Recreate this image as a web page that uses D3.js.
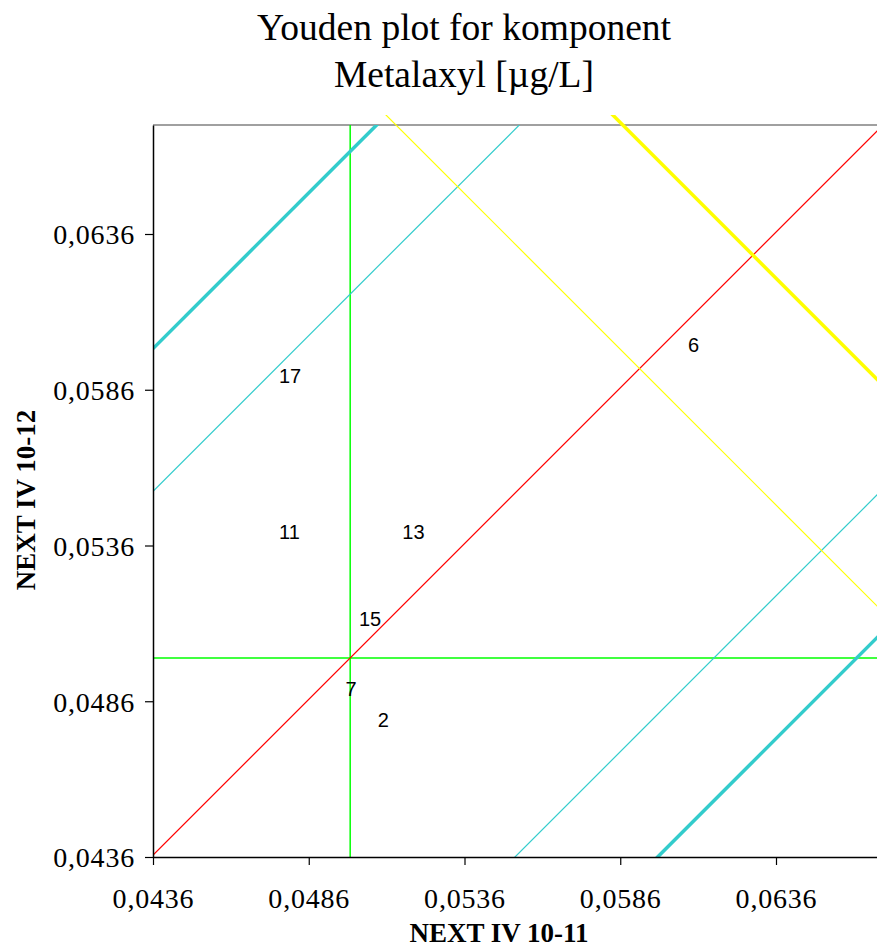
<!DOCTYPE html>
<html>
<head>
<meta charset="utf-8">
<script src="https://cdn.jsdelivr.net/npm/d3@7/dist/d3.min.js"></script>
<style>
  html, body { margin: 0; padding: 0; background: #fff; overflow: hidden; }
  svg { display: block; }
</style>
</head>
<body>
<svg id="chart" width="877" height="948"></svg>
<script>
// Laboratory results (sample 10-11 vs sample 10-12)
const labIds  = ["2", "6", "7", "11", "13", "15", "17"];
const xValues = [0.05099, 0.06095, 0.04996, 0.04798, 0.05196, 0.05057, 0.04800];
const yValues = [0.04800, 0.06004, 0.04899, 0.05402, 0.05402, 0.05124, 0.05903];

// Medians of both samples
const medianX = 0.04993;
const medianY = 0.04999;

// Limits parallel to the 45° line (offset of y - x from the median line)
const innerBand = 0.01168;
const outerBand = 0.01626;
// Limits perpendicular to the 45° line (offset of x + y from the median sum)
const innerCross = 0.01858;
const outerCross = 0.02586;

const tickValues = [0.0436, 0.0486, 0.0536, 0.0586, 0.0636];
const titleLines = ["Youden plot for komponent", "Metalaxyl [µg/L]"];
const xTitle = "NEXT IV 10-11";
const yTitle = "NEXT IV 10-12";

// ---- layout ----
const svg = d3.select("#chart");
const plotLeft = 153, plotTop = 125, plotBottom = 857;
const pxPerUnit = 31150;
const xMin = 0.0436, yMin = 0.0436;
const xMax = 0.0676, yMax = yMin + (plotBottom - plotTop) / pxPerUnit;

const x = d3.scaleLinear().domain([xMin, xMax]).range([plotLeft, plotLeft + (xMax - xMin) * pxPerUnit]);
const y = d3.scaleLinear().domain([yMin, yMax]).range([plotBottom, plotTop]);
const plotRight = x(xMax);

const locale = d3.formatLocale({ decimal: ",", thousands: ".", grouping: [3], currency: ["", ""] });
const fmt = locale.format(".4f");

const defs = svg.append("defs");
defs.append("clipPath").attr("id", "plotClip")
  .append("rect").attr("x", plotLeft).attr("y", plotTop)
  .attr("width", plotRight - plotLeft).attr("height", plotBottom - plotTop);
defs.append("clipPath").attr("id", "crossClip")
  .append("rect").attr("x", plotLeft).attr("y", plotTop - 10)
  .attr("width", plotRight - plotLeft).attr("height", plotBottom - plotTop + 10);

// top frame line
svg.append("line")
  .attr("x1", plotLeft).attr("x2", plotRight).attr("y1", plotTop).attr("y2", plotTop)
  .attr("stroke", "#808080").attr("stroke-width", 1.5);

const line = d3.line().x(d => x(d[0])).y(d => y(d[1]));
const span = [0.02, 0.09];

// lines y = x + c
function diagonal(c) { return span.map(v => [v, v + c]); }
// lines x + y = s
function cross(s) { return span.map(v => [v, s - v]); }

const plot = svg.append("g").attr("clip-path", "url(#plotClip)");
const c0 = medianY - medianX;
const s0 = medianX + medianY;

// green median lines
plot.append("path").attr("d", line([[medianX, yMin - 0.01], [medianX, yMax + 0.01]]))
  .attr("stroke", "#00ff00").attr("stroke-width", 1.5).attr("fill", "none");
plot.append("path").attr("d", line([[xMin - 0.01, medianY], [xMax + 0.01, medianY]]))
  .attr("stroke", "#00ff00").attr("stroke-width", 1.5).attr("fill", "none");

// cyan limits parallel to the diagonal
[[innerBand, 1.2], [outerBand, 3.5]].forEach(([off, w]) => {
  [1, -1].forEach(sgn => {
    plot.append("path").attr("d", line(diagonal(c0 + sgn * off)))
      .attr("stroke", "#33cccc").attr("stroke-width", w).attr("fill", "none");
  });
});

// red 45° line through the medians
plot.append("path").attr("d", line(diagonal(c0)))
  .attr("stroke", "#ff0000").attr("stroke-width", 1.2).attr("fill", "none");

// yellow limits perpendicular to the diagonal
const crossG = svg.append("g").attr("clip-path", "url(#crossClip)");
[[innerCross, 1.2], [outerCross, 3.5]].forEach(([off, w]) => {
  [1, -1].forEach(sgn => {
    crossG.append("path").attr("d", line(cross(s0 + sgn * off)))
      .attr("stroke", "#ffff00").attr("stroke-width", w).attr("fill", "none");
  });
});

// lab number labels
svg.append("g").selectAll("text")
  .data(labIds.map((id, i) => ({ id, vx: xValues[i], vy: yValues[i] })))
  .join("text")
  .attr("x", d => x(d.vx)).attr("y", d => y(d.vy))
  .attr("text-anchor", "middle").attr("dominant-baseline", "central")
  .attr("font-family", "'Liberation Sans', Arial, sans-serif")
  .attr("font-size", 20).attr("fill", "#000")
  .text(d => d.id);

// axes
const xAxis = svg.append("g").attr("transform", `translate(0,${plotBottom})`)
  .call(d3.axisBottom(x).tickValues(tickValues).tickFormat(fmt).tickSize(8).tickSizeOuter(0));
const yAxis = svg.append("g").attr("transform", `translate(${plotLeft},0)`)
  .call(d3.axisLeft(y).tickValues(tickValues).tickFormat(fmt).tickSize(8).tickSizeOuter(0));

[xAxis, yAxis].forEach(g => {
  g.select(".domain").attr("stroke", "#000").attr("stroke-width", 1.5);
  g.selectAll(".tick line").attr("stroke", "#000").attr("stroke-width", 1.2);
  g.selectAll(".tick text")
    .attr("font-family", "'Liberation Serif', 'Times New Roman', serif")
    .attr("font-size", 28).attr("letter-spacing", 0.8).attr("fill", "#000");
});
xAxis.selectAll(".tick text").attr("y", 51).attr("dy", 0);
yAxis.selectAll(".tick text").attr("x", -18).attr("dy", "0.35em");

// titles
const title = svg.append("text")
  .attr("text-anchor", "middle")
  .attr("font-family", "'Liberation Serif', 'Times New Roman', serif")
  .attr("font-size", 37.5).attr("fill", "#000");
titleLines.forEach((t, i) => {
  title.append("tspan").attr("x", 464).attr("y", 40 + i * 47).text(t);
});

svg.append("text")
  .attr("x", 499).attr("y", 942)
  .attr("text-anchor", "middle")
  .attr("font-family", "'Liberation Serif', 'Times New Roman', serif")
  .attr("font-size", 27).attr("font-weight", "bold")
  .attr("fill", "#000")
  .text(xTitle);

svg.append("text")
  .attr("transform", "translate(35,500) rotate(-90)")
  .attr("text-anchor", "middle")
  .attr("font-family", "'Liberation Serif', 'Times New Roman', serif")
  .attr("font-size", 27).attr("font-weight", "bold")
  .attr("fill", "#000")
  .text(yTitle);
</script>
</body>
</html>
